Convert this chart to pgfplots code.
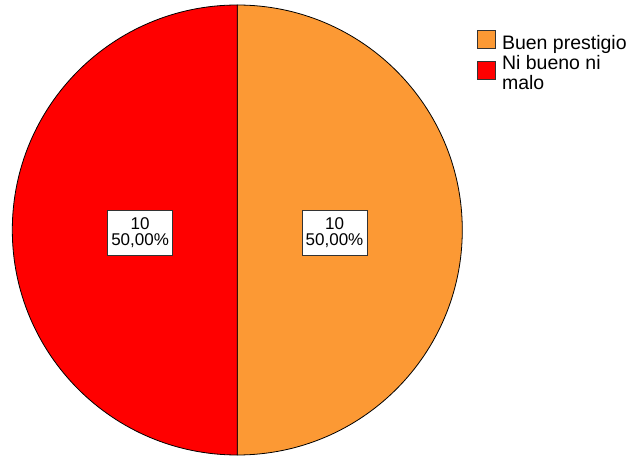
\documentclass[border=0pt]{standalone}
\usepackage{pgfplots}
\usepackage{pgfplotstable}
\pgfplotsset{compat=1.18}
\usepackage{fontspec}
\setmainfont{Liberation Sans}
\definecolor{pieorange}{RGB}{252,153,52}
\definecolor{piered}{RGB}{255,0,0}

\pgfplotstableread{
label value
Buen 10
Ni 10
}\piedata

\begin{document}
\begin{tikzpicture}
\pgfplotstablegetelem{0}{value}\of\piedata \let\va\pgfplotsretval
\pgfplotstablegetelem{1}{value}\of\piedata \let\vb\pgfplotsretval
\pgfmathsetmacro\total{\va+\vb}
\pgfmathsetmacro\sA{90}
\pgfmathsetmacro\eA{90-360*\va/\total}
\pgfmathsetmacro\eB{\eA-360*\vb/\total}
\pgfmathsetmacro\mA{(\sA+\eA)/2}
\pgfmathsetmacro\mB{(\eA+\eB)/2}
\pgfmathsetmacro\pA{100*\va/\total}
\pgfmathsetmacro\pB{100*\vb/\total}
\path (0pt,0pt) rectangle (629pt,457pt);
\begin{axis}[
  scale only axis, width=450pt, height=450pt,
  xmin=-1, xmax=1, ymin=-1, ymax=1,
  hide axis, clip=false, disabledatascaling,
  at={(237.3pt,227pt)}, anchor=center,
  legend style={draw=none, fill=none, inner sep=0pt, at={(1.0327,0.944)}, anchor=north west,
    font=\fontsize{19.5}{20}\selectfont, cells={anchor=west, align=left},
    nodes={inner sep=0pt}, column sep=6pt, row sep=5pt},
  legend image code/.code={\draw[#1] (0pt,-6pt) rectangle (18pt,12pt);},
]
\addlegendimage{fill=pieorange, draw=black!80, line width=0.8pt}
\addlegendentry{Buen prestigio}
\addlegendimage{fill=piered, draw=black!80, line width=0.8pt}
\addlegendentry{Ni bueno ni\\malo}
\filldraw[fill=pieorange, draw=black, line width=0.8pt]
  (axis cs:0,0) -- (axis cs:{cos(\sA)},{sin(\sA)}) arc[start angle=\sA, end angle=\eA, radius=1] -- cycle;
\filldraw[fill=piered, draw=black, line width=0.8pt]
  (axis cs:0,0) -- (axis cs:{cos(\eA)},{sin(\eA)}) arc[start angle=\eA, end angle=\eB, radius=1] -- cycle;
\node[fill=white, draw=black!80, line width=0.7pt, minimum width=65pt, minimum height=45pt,
  inner sep=0pt, align=center, font=\fontsize{17}{15.5}\selectfont]
  at (axis cs:{0.432*cos(\mA)},{0.432*sin(\mA)-0.011})
  {\pgfmathprintnumber[assume math mode=true]{\va}\\\pgfmathprintnumber[fixed, fixed zerofill, precision=2, use comma, assume math mode=true]{\pA}\%};
\node[fill=white, draw=black!80, line width=0.7pt, minimum width=65pt, minimum height=45pt,
  inner sep=0pt, align=center, font=\fontsize{17}{15.5}\selectfont]
  at (axis cs:{0.432*cos(\mB)},{0.432*sin(\mB)-0.011})
  {\pgfmathprintnumber[assume math mode=true]{\vb}\\\pgfmathprintnumber[fixed, fixed zerofill, precision=2, use comma, assume math mode=true]{\pB}\%};
\end{axis}
\end{tikzpicture}
\end{document}
